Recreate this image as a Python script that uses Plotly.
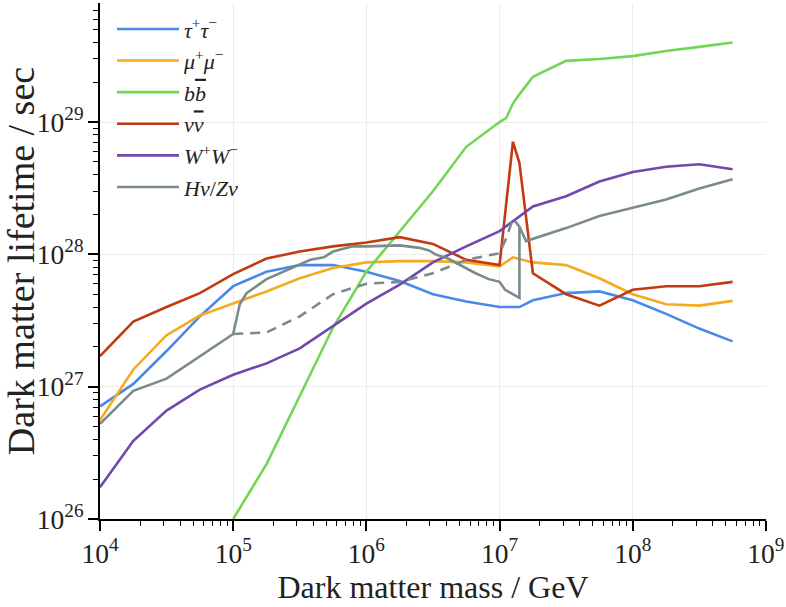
import plotly.graph_objects as go

# ---------------- data ----------------
mass_std = [1e4, 1.78e4, 3.16e4, 5.62e4, 1e5, 1.78e5, 3.16e5, 5.62e5,
            1e6, 1.78e6, 3.16e6, 5.62e6, 1e7]

tau_mass = mass_std + [1.41e7, 1.78e7, 3.16e7, 5.62e7, 1e8, 1.78e8, 3.16e8, 5.62e8]
tau_life = [7.1e26, 1.05e27, 1.86e27, 3.4e27, 5.75e27, 7.4e27, 8.3e27, 8.3e27,
            7.4e27, 6.3e27, 5.0e27, 4.4e27, 4.0e27,
            4.0e27, 4.5e27, 5.1e27, 5.25e27, 4.5e27, 3.55e27, 2.75e27, 2.2e27]

mu_mass = mass_std + [1.26e7, 1.78e7, 3.16e7, 5.62e7, 1e8, 1.78e8, 3.16e8, 5.62e8]
mu_life = [5.6e26, 1.35e27, 2.45e27, 3.45e27, 4.25e27, 5.25e27, 6.6e27, 7.9e27,
           8.7e27, 8.9e27, 8.9e27, 8.7e27, 8.1e27,
           9.5e27, 8.7e27, 8.3e27, 6.6e27, 5.0e27, 4.2e27, 4.1e27, 4.45e27]

bb_mass = [1e5, 1.78e5, 3.16e5, 5.62e5, 1e6, 1.78e6, 3.16e6, 5.62e6, 1e7,
           1.12e7, 1.26e7, 1.41e7, 1.78e7, 3.16e7, 5.62e7, 1e8, 1.78e8, 3.16e8, 5.62e8]
bb_life = [1.0e26, 2.6e26, 8.5e26, 2.8e27, 7.4e27, 1.48e28, 3.0e28, 6.5e28, 1.0e29,
           1.07e29, 1.38e29, 1.62e29, 2.2e29, 2.9e29, 3.0e29, 3.15e29, 3.45e29, 3.7e29, 4.0e29]

nu_mass = mass_std + [1.26e7, 1.41e7, 1.78e7, 3.16e7, 5.62e7, 1e8, 1.78e8, 3.16e8, 5.62e8]
nu_life = [1.7e27, 3.1e27, 4.0e27, 5.1e27, 7.1e27, 9.3e27, 1.05e28, 1.15e28,
           1.23e28, 1.35e28, 1.2e28, 9.1e27, 8.3e27,
           7.1e28, 4.9e28, 7.2e27, 5.0e27, 4.1e27, 5.4e27, 5.75e27, 5.75e27, 6.2e27]

ww_mass = mass_std + [1.78e7, 3.16e7, 5.62e7, 1e8, 1.78e8, 3.16e8, 5.62e8]
ww_life = [1.74e26, 3.9e26, 6.6e26, 9.5e26, 1.23e27, 1.5e27, 1.95e27, 2.9e27,
           4.25e27, 5.9e27, 8.7e27, 1.15e28, 1.5e28,
           2.3e28, 2.75e28, 3.55e28, 4.2e28, 4.6e28, 4.8e28, 4.4e28]

hz_mass = [1e4, 1.78e4, 3.16e4, 5.62e4, 1e5, 1.12e5, 1.26e5, 1.78e5, 2.24e5, 3.16e5,
           3.8e5, 4.8e5, 5.62e5, 7.9e5, 1e6, 1.78e6, 2.5e6, 2.95e6, 3.3e6, 4.1e6,
           5.1e6, 6.6e6, 8.3e6, 1e7, 1.1e7, 1.41e7, 1.41e7, 1.58e7, 3.16e7, 5.62e7,
           1e8, 1.78e8, 3.16e8, 5.62e8]
hz_life = [5.25e26, 9.3e26, 1.15e27, 1.7e27, 2.5e27, 4.2e27, 5.1e27, 6.5e27, 7.2e27, 8.3e27,
           9.1e27, 9.5e27, 1.05e28, 1.15e28, 1.15e28, 1.17e28, 1.12e28, 1.07e28, 1.0e28, 9.3e27,
           8.3e27, 7.2e27, 6.5e27, 6.2e27, 5.4e27, 4.7e27, 1.62e28, 1.26e28, 1.58e28, 1.95e28,
           2.25e28, 2.6e28, 3.15e28, 3.7e28]

hz_dash_mass = [1e5, 1.78e5, 3.16e5, 5.62e5, 1e6, 1.78e6, 3.16e6, 5.62e6, 1e7,
                1.12e7, 1.26e7, 1.41e7]
hz_dash_life = [2.5e27, 2.57e27, 3.4e27, 5.0e27, 6.0e27, 6.2e27, 7.2e27, 9.1e27, 1.02e28,
                1.32e28, 1.86e28, 1.62e28]

OV = '<span style="text-decoration:overline">'
labels = ["<i>τ</i><sup>+</sup><i>τ</i><sup>−</sup>",
          "<i>μ</i><sup>+</sup><i>μ</i><sup>−</sup>",
          "<i>b</i>" + OV + "<i>b</i></span>",
          "<i>ν</i>" + OV + "<i>ν</i></span>",
          "<i>W</i><sup>+</sup><i>W</i><sup>−</sup>",
          "<i>Hν</i>/<i>Zν</i>"]
colors = ["#4a89e8", "#f5ab1e", "#72d655", "#c23b10", "#7048b0", "#7b8a8a"]

FONT = "Liberation Serif"

fig = go.Figure()
series = [(tau_mass, tau_life), (mu_mass, mu_life), (bb_mass, bb_life),
          (nu_mass, nu_life), (ww_mass, ww_life), (hz_mass, hz_life)]
for (mx, ly), name, c in zip(series, labels, colors):
    fig.add_trace(go.Scatter(x=mx, y=ly, mode="lines", name=name,
                             line=dict(color=c, width=2.6)))
fig.add_trace(go.Scatter(x=hz_dash_mass, y=hz_dash_life, mode="lines", showlegend=False,
                         line=dict(color=colors[5], width=2.6, dash="10px,7px")))

axis_common = dict(
    type="log", dtick=1, exponentformat="power", showexponent="all",
    showline=True, linecolor="black", linewidth=2.2, automargin=False,
    ticks="outside", ticklen=10, tickwidth=1.6, tickcolor="black",
    ticklabeloverflow="allow",
    showgrid=True, gridcolor="#ececec", gridwidth=1, zeroline=False,
    tickfont=dict(family=FONT, size=22, color="#222"),
    minor=dict(ticks="outside", ticklen=5, tickwidth=1.2, tickcolor="black",
               dtick="D1", showgrid=False),
)

fig.update_layout(
    width=786, height=607,
    margin=dict(l=100, r=20, t=3, b=88),
    paper_bgcolor="white", plot_bgcolor="white",
    font=dict(family=FONT, color="#222"),
    showlegend=True,
    legend=dict(x=0.018, y=0.99, xanchor="left", yanchor="top",
                bgcolor="rgba(0,0,0,0)", borderwidth=0, itemwidth=62,
                font=dict(family=FONT, size=22, color="#222")),
    xaxis=dict(axis_common, range=[4, 9.0005],
               title=dict(text="Dark matter mass / GeV", font=dict(family=FONT, size=32), standoff=6)),
    yaxis=dict(axis_common, range=[26, 29.9],
               title=dict(text="Dark matter lifetime / sec", font=dict(family=FONT, size=38), standoff=14)),
)

fig.write_html("out.html", config={"displayModeBar": False},
               post_script="document.body.style.margin='0px';")
